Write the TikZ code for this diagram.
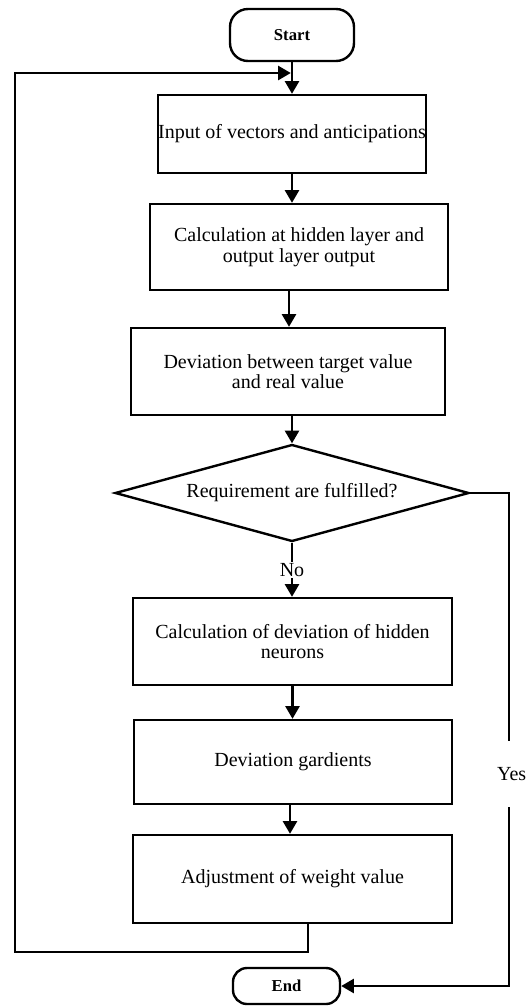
\documentclass[tikz,border=0pt]{standalone}
\usepackage{fontspec}
\setmainfont{Liberation Serif}
\usetikzlibrary{shapes.geometric,arrows.meta}
\begin{document}
\begin{tikzpicture}[x=0.75pt,y=-0.75pt,
  line width=1.8pt,
  flow/.style={draw, line width=1.8pt, inner sep=0pt, align=center, font=\fontsize{15}{15.5}\selectfont},
  term/.style={flow, font=\bfseries\fontsize{12.5}{14}\selectfont},
  dec/.style={flow, shape=diamond, aspect=3.65},
  arr/.style={-{Triangle[width=10.5pt,length=9.5pt]}},
  lbl/.style={fill=white, inner sep=1pt, font=\fontsize{15}{15.5}\selectfont}]
\useasboundingbox (0,0) rectangle (531,1008);

\node[term, rounded corners=13.5pt, minimum width=93pt, minimum height=39pt] (start) at (292,35) {Start};
\node[flow, minimum width=201pt, minimum height=58.5pt] (b1) at (292,134) {Input of vectors and anticipations};
\node[flow, minimum width=223.5pt, minimum height=64.5pt] (b2) at (299,247) {Calculation at hidden layer and\\output layer output};
\node[flow, minimum width=235.5pt, minimum height=65.25pt] (b3) at (288,371.5) {Deviation between target value\\and real value};
\node[dec, minimum width=265.5pt, minimum height=72.75pt] (d) at (292,493) {Requirement are fulfilled?};
\node[flow, minimum width=239.25pt, minimum height=65.25pt] (b4) at (292.5,641.5) {Calculation of deviation of hidden\\neurons};
\node[flow, minimum width=238.5pt, minimum height=63pt] (b5) at (293,762) {Deviation gardients};
\node[flow, minimum width=239.25pt, minimum height=66pt] (b6) at (292.5,879) {Adjustment of weight value};
\node[term, rounded corners=10.5pt, minimum width=80.25pt, minimum height=27pt] (end) at (286.5,986) {End};

\coordinate (c23) at (289,0);
\coordinate (c56) at (290,0);
\coordinate (loopA) at (308,952);
\coordinate (loopB) at (15,73);
\coordinate (yr) at (509,0);

\draw[arr] (start) -- (b1);
\draw[arr] (b1.south) -- (b1.south |- b2.north);
\draw[arr] (c23 |- b2.south) -- (c23 |- b3.north);
\draw[arr] (d.north |- b3.south) -- (d.north);
\draw[arr] (d.south) -- node[lbl] {No} (d.south |- b4.north);
\draw[arr] (b4.south) -- (b4.south |- b5.north);
\draw[arr] (c56 |- b5.south) -- (c56 |- b6.north);
\draw[arr, shorten >=0.9pt] (b6.south -| loopA) -- (loopA) -| (loopB) -- (start.south |- loopB);
\draw[arr] (d.east) -- (d.east -| yr) -- node[lbl, pos=0.57, minimum height=50pt, xshift=2pt] {Yes} (yr |- end.east) -- (end.east);
\end{tikzpicture}
\end{document}
